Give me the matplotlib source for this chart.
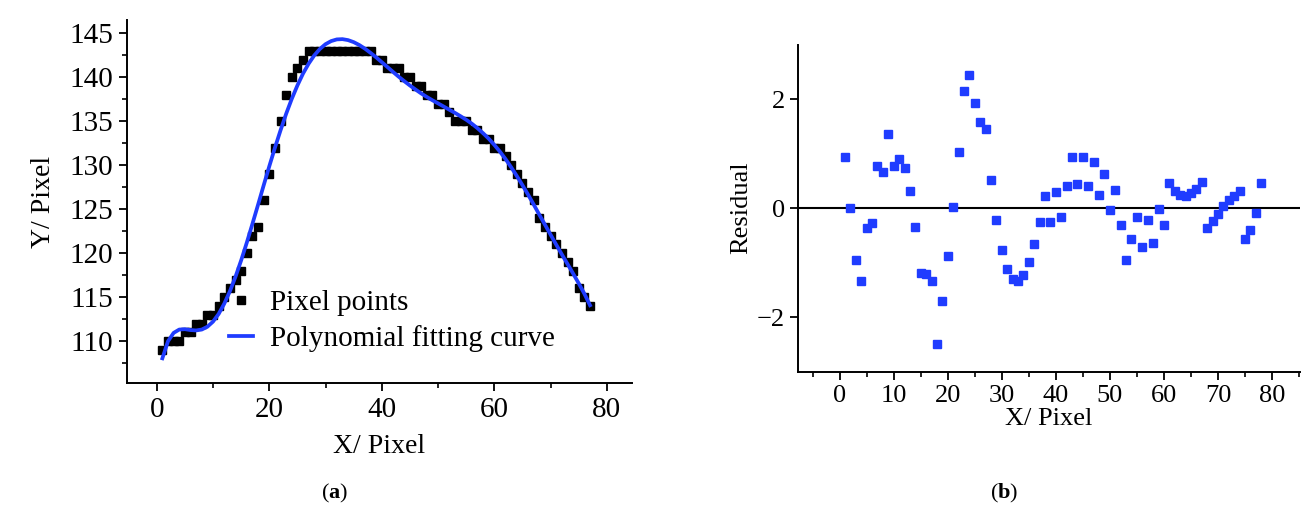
import matplotlib.pyplot as plt
import numpy as np
from matplotlib.ticker import MultipleLocator

plt.rcParams['font.family'] = ['Liberation Serif', 'DejaVu Serif']
plt.rcParams['mathtext.fontset'] = 'custom'
plt.rcParams['mathtext.rm'] = 'Liberation Serif'
plt.rcParams['mathtext.bf'] = 'Liberation Serif:bold'

# pixel points (x = 1..77)
pixel_x = np.arange(1, 78)
pixel_y = [109, 110, 110, 110, 111, 111, 112, 112, 113, 113,
           114, 115, 116, 117, 118, 120, 122, 123, 126, 129,
           132, 135, 138, 140, 141, 142, 143, 143, 143, 143,
           143, 143, 143, 143, 143, 143, 143, 143, 142, 142,
           141, 141, 141, 140, 140, 139, 139, 138, 138, 137,
           137, 136, 135, 135, 135, 134, 134, 133, 133, 132,
           132, 131, 130, 129, 128, 127, 126, 124, 123, 122,
           121, 120, 119, 118, 116, 115, 114]

# residuals (x = 1..78)
res_x = np.arange(1, 79)
residual = [0.94, 0.00, -0.95, -1.33, -0.37, -0.27, 0.77, 0.67, 1.35, 0.77,
            0.90, 0.73, 0.32, -0.34, -1.19, -1.20, -1.33, -2.50, -1.71, -0.88,
            0.02, 1.03, 2.15, 2.45, 1.93, 1.58, 1.45, 0.51, -0.22, -0.76,
            -1.11, -1.30, -1.33, -1.22, -0.99, -0.66, -0.25, 0.23, -0.26, 0.29,
            -0.16, 0.40, 0.94, 0.45, 0.94, 0.40, 0.84, 0.24, 0.62, -0.03,
            0.33, -0.31, -0.95, -0.57, -0.17, -0.72, -0.21, -0.64, -0.02, -0.31,
            0.46, 0.31, 0.24, 0.23, 0.27, 0.35, 0.47, -0.37, -0.24, -0.10,
            0.03, 0.14, 0.22, 0.31, -0.57, -0.40, -0.09, 0.46]

# fitted curve = pixel value - residual
fit_y = np.array(pixel_y) - np.array(residual[:77])

blue = '#1f3cff'

fig = plt.figure(figsize=(13.04, 5.14), dpi=100)

# ---- panel (a)
ax1 = fig.add_axes([0.0972, 0.2539, 0.3872, 0.7071])
ax1.plot(pixel_x, pixel_y, 's', color='black', markersize=5.8, label='Pixel points', zorder=2)
ax1.plot(pixel_x, fit_y, '-', color=blue, linewidth=2.7, label='Polynomial fitting curve', zorder=3)
ax1.set_xlim(-5.33, 84.4)
ax1.set_ylim(105.2, 146.5)
ax1.xaxis.set_major_locator(MultipleLocator(20))
ax1.xaxis.set_minor_locator(MultipleLocator(10))
ax1.yaxis.set_major_locator(MultipleLocator(5))
ax1.yaxis.set_minor_locator(MultipleLocator(2.5))
ax1.set_xlabel('X/ Pixel', fontsize=20, labelpad=8)
ax1.set_ylabel('Y/ Pixel', fontsize=20, labelpad=10)
ax1.legend(loc='lower left', bbox_to_anchor=(0.18, 0.055), frameon=False, fontsize=21,
           handlelength=0.8, handletextpad=0.6, labelspacing=0.3, borderaxespad=0)

# ---- panel (b)
ax2 = fig.add_axes([0.612, 0.2768, 0.385, 0.6366])
ax2.axhline(0, color='black', linewidth=1.5, zorder=1)
ax2.plot(res_x, residual, 's', color=blue, markersize=5.5, zorder=2)
ax2.set_xlim(-7.7, 85.2)
ax2.set_ylim(-3, 3)
ax2.xaxis.set_major_locator(MultipleLocator(10))
ax2.xaxis.set_minor_locator(MultipleLocator(5))
ax2.set_yticks([-2, 0, 2])
ax2.set_xlabel('X/ Pixel', fontsize=19, labelpad=1)
ax2.set_ylabel('Residual', fontsize=19, labelpad=3)

for ax in (ax1, ax2):
    for s in ('top', 'right'):
        ax.spines[s].set_visible(False)
    for s in ('left', 'bottom'):
        ax.spines[s].set_linewidth(1.4)
    ax.tick_params(which='major', direction='out', length=6, width=1.3, labelsize=21)
    ax.tick_params(which='minor', direction='out', length=3.5, width=1.2)

ax2.tick_params(axis='both', labelsize=19)

fig.text(0.2569, 0.04, r'($\mathbf{a}$)', ha='center', va='center', fontsize=16)
fig.text(0.7700, 0.04, r'($\mathbf{b}$)', ha='center', va='center', fontsize=16)

fig.savefig('out.png', dpi=100)
